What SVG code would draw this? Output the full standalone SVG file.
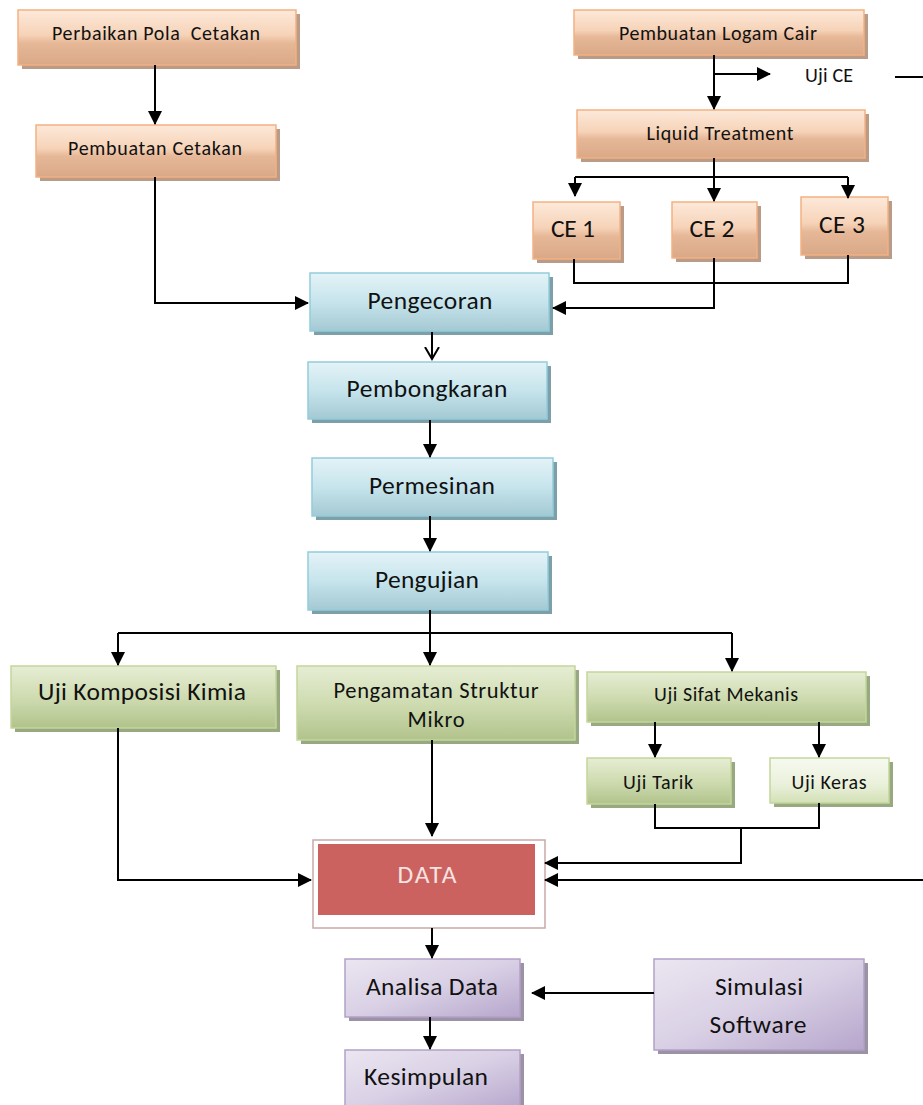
<svg xmlns="http://www.w3.org/2000/svg" width="923" height="1105" viewBox="0 0 923 1105">
<defs>
<linearGradient id="gOr" x1="0" y1="0" x2="0" y2="1">
<stop offset="0" stop-color="#fde9da"/><stop offset="0.45" stop-color="#f6d3b8"/><stop offset="0.6" stop-color="#e6b898"/><stop offset="1" stop-color="#d9a887"/>
</linearGradient>
<linearGradient id="gBl" x1="0" y1="0" x2="0" y2="1">
<stop offset="0" stop-color="#e4f3f7"/><stop offset="0.5" stop-color="#c6e4ec"/><stop offset="1" stop-color="#a4c9d3"/>
</linearGradient>
<linearGradient id="gGr" x1="0" y1="0" x2="0" y2="1">
<stop offset="0" stop-color="#e6edd4"/><stop offset="0.5" stop-color="#cfdcb1"/><stop offset="1" stop-color="#b1c38c"/>
</linearGradient>
<linearGradient id="gGrL" x1="0" y1="0" x2="0" y2="1">
<stop offset="0" stop-color="#f7faf0"/><stop offset="0.6" stop-color="#e9f0da"/><stop offset="1" stop-color="#d3e0b6"/>
</linearGradient>
<linearGradient id="gPu" x1="0" y1="0" x2="1" y2="1">
<stop offset="0" stop-color="#ebe6f1"/><stop offset="0.5" stop-color="#d9d0e5"/><stop offset="1" stop-color="#b6a6cc"/>
</linearGradient>
<marker id="ah" markerUnits="userSpaceOnUse" markerWidth="14" markerHeight="14" refX="13" refY="7" orient="auto">
<path d="M0,0 L14,7 L0,14 z" fill="#000"/>
</marker>
<marker id="av" markerUnits="userSpaceOnUse" markerWidth="14" markerHeight="16" refX="12" refY="8" orient="auto">
<path d="M0,1 L12,8 L0,15" fill="none" stroke="#000" stroke-width="2"/>
</marker>
</defs>
<style>
text{font-family:Carlito,Lato,"Liberation Sans",sans-serif;fill:#111;text-anchor:middle}
.or{fill:url(#gOr);stroke:#f4b183;stroke-width:1.5}
.orS{fill:#b99b87}
.bl{fill:url(#gBl);stroke:#92cddc;stroke-width:1.5}
.blS{fill:#7d9fa8}
.gr{fill:url(#gGr);stroke:#c3d69b;stroke-width:1.5}
.grL{fill:url(#gGrL);stroke:#c3d69b;stroke-width:1.5}
.grS{fill:#98a880}
.pu{fill:url(#gPu);stroke:#b2a1c7;stroke-width:1.5}
.puS{fill:#9b93a5}
.s19{font-size:20px}
.s21{font-size:22.5px}
.s24{font-size:25.5px}
.c{fill:none;stroke:#000;stroke-width:2}
.a{marker-end:url(#ah)}
</style>
<rect width="923" height="1105" fill="#fff"/>

<g id="n1"><rect class="orS" x="22" y="14" width="278" height="55"/><rect class="or" x="18" y="10" width="278" height="55"/><text class="s19" x="156" y="40" textLength="208" xml:space="preserve">Perbaikan Pola  Cetakan</text></g>
<g id="n2"><rect class="orS" x="40" y="129" width="240" height="52"/><rect class="or" x="36" y="125" width="240" height="52"/><text class="s19" x="155" y="155" textLength="174">Pembuatan Cetakan</text></g>
<g id="n3"><rect class="orS" x="578" y="14" width="290" height="45"/><rect class="or" x="574" y="10" width="290" height="45"/><text class="s19" x="718" y="40" textLength="198">Pembuatan Logam Cair</text></g>
<g id="n4"><rect class="orS" x="581" y="114" width="288" height="48"/><rect class="or" x="577" y="110" width="288" height="48"/><text class="s19" x="720" y="140" textLength="147">Liquid Treatment</text></g>
<g id="n5"><rect class="orS" x="537" y="206" width="87" height="57"/><rect class="or" x="533" y="202" width="87" height="57"/><text class="s24" x="573" y="237" textLength="44">CE 1</text></g>
<g id="n6"><rect class="orS" x="676" y="206" width="85" height="56"/><rect class="or" x="672" y="202" width="85" height="56"/><text class="s24" x="712" y="237" textLength="45">CE 2</text></g>
<g id="n7"><rect class="orS" x="805" y="201" width="87" height="58"/><rect class="or" x="801" y="197" width="87" height="58"/><text class="s24" x="842" y="233" textLength="46">CE 3</text></g>
<g id="uji-ce"><text class="s19" x="829" y="82" textLength="48">Uji CE</text></g>

<g id="n8"><rect class="blS" x="314" y="277" width="239" height="58"/><rect class="bl" x="310" y="273" width="239" height="58"/><text class="s24" x="430" y="309" textLength="125">Pengecoran</text></g>
<g id="n9"><rect class="blS" x="312" y="366" width="239" height="57"/><rect class="bl" x="308" y="362" width="239" height="57"/><text class="s24" x="427" y="397" textLength="161">Pembongkaran</text></g>
<g id="n10"><rect class="blS" x="316" y="462" width="241" height="58"/><rect class="bl" x="312" y="458" width="241" height="58"/><text class="s24" x="432" y="494" textLength="126">Permesinan</text></g>
<g id="n11"><rect class="blS" x="312" y="556" width="240" height="58"/><rect class="bl" x="308" y="552" width="240" height="58"/><text class="s24" x="427" y="588" textLength="104">Pengujian</text></g>

<g id="n12"><rect class="grS" x="15" y="670" width="265" height="62"/><rect class="gr" x="11" y="666" width="265" height="62"/><text class="s24" x="142" y="700" textLength="208">Uji Komposisi Kimia</text></g>
<g id="n13"><rect class="grS" x="301" y="670" width="278" height="74"/><rect class="gr" x="297" y="666" width="278" height="74"/><text class="s21" x="436" y="698" textLength="205">Pengamatan Struktur</text><text class="s21" x="436" y="727" textLength="57">Mikro</text></g>
<g id="n14"><rect class="grS" x="591" y="676" width="279" height="50"/><rect class="gr" x="587" y="672" width="279" height="50"/><text class="s19" x="726" y="701" textLength="144">Uji Sifat Mekanis</text></g>
<g id="n15"><rect class="grS" x="591" y="762" width="144" height="46"/><rect class="gr" x="587" y="758" width="144" height="46"/><text class="s19" x="658" y="789" textLength="70">Uji Tarik</text></g>
<g id="n16"><rect class="grS" x="774" y="762" width="119" height="45"/><rect class="grL" x="770" y="758" width="119" height="45"/><text class="s19" x="829" y="789" textLength="75">Uji Keras</text></g>

<g id="n17"><rect x="313" y="840" width="232" height="88" fill="#fff" stroke="#c9a9a7" stroke-width="1.5"/><rect x="318" y="844" width="217" height="71" fill="#cc625f"/><text class="s24" x="427" y="883" textLength="59" style="fill:#f6e4e3">DATA</text></g>

<g id="n18"><rect class="puS" x="349" y="963" width="175" height="58"/><rect class="pu" x="345" y="959" width="175" height="58"/><text class="s24" x="432" y="995" textLength="132">Analisa Data</text></g>
<g id="n19"><rect class="puS" x="658" y="963" width="210" height="91"/><rect class="pu" x="654" y="959" width="210" height="91"/><text class="s24" x="759" y="995" textLength="88">Simulasi</text><text class="s24" x="758" y="1033" textLength="97">Software</text></g>
<g id="n20"><rect class="puS" x="349" y="1054" width="175" height="60"/><rect class="pu" x="345" y="1050" width="175" height="60"/><text class="s24" x="426" y="1085" textLength="124">Kesimpulan</text></g>

<g id="connectors">
<path class="c a" d="M155,65 V124"/>
<path class="c a" d="M155,177 V303 H308"/>
<path class="c a" d="M714,55 V109"/>
<path class="c a" d="M714,74 H770"/>
<path class="c" d="M895,77 H923"/>
<path class="c a" d="M714,158 V201"/>
<path class="c" d="M575,177 H848"/>
<path class="c a" d="M575,177 V196"/>
<path class="c a" d="M848,177 V198"/>
<path class="c" d="M574,259 V283 H848 V255"/>
<path class="c a" d="M714,258 V308 H553"/>
<path class="c" d="M432,332 V359" marker-end="url(#av)"/>
<path class="c a" d="M430,420 V457"/>
<path class="c a" d="M430,516 V551"/>
<path class="c" d="M430,610 V633 M118,633 H732"/>
<path class="c a" d="M118,633 V665"/>
<path class="c a" d="M430,633 V665"/>
<path class="c a" d="M732,633 V671"/>
<path class="c a" d="M655,722 V757"/>
<path class="c a" d="M819,722 V757"/>
<path class="c" d="M655,804 V828 H819 V803"/>
<path class="c a" d="M741,828 V863 H545"/>
<path class="c a" d="M923,880 H545"/>
<path class="c a" d="M118,728 V880 H311"/>
<path class="c a" d="M432,740 V836"/>
<path class="c a" d="M432,928 V958"/>
<path class="c a" d="M654,993 H532"/>
<path class="c a" d="M430,1017 V1049"/>
</g>
</svg>
